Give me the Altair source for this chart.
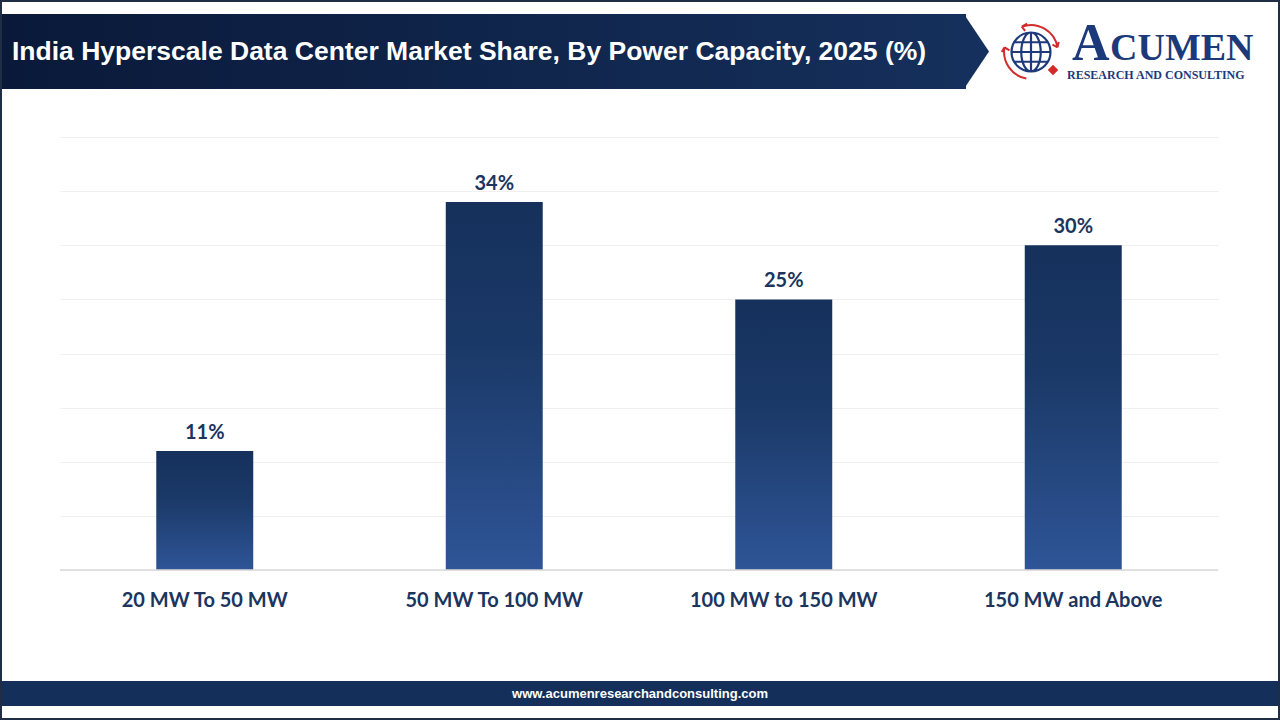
import altair as alt
import pandas as pd

# ---- data ----
categories = ["20 MW To 50 MW", "50 MW To 100 MW", "100 MW to 150 MW", "150 MW and Above"]
shares = [11, 34, 25, 30]
labels = ["11%", "34%", "25%", "30%"]
y_ticks = [0, 5, 10, 15, 20, 25, 30, 35, 40]

title_text = "India Hyperscale Data Center Market Share, By Power Capacity, 2025 (%)"
footer_text = "www.acumenresearchandconsulting.com"
logo_big = "A"
logo_rest = "CUMEN"
logo_sub = "RESEARCH AND CONSULTING"

df = pd.DataFrame({"category": categories, "share": shares, "label": labels})
one = pd.DataFrame({"k": [0]})

W, H = 1158, 433
OX, OY = 60, 137


def px(x):
    return x - OX


def py(y):
    return y - OY


NAVY = "#14305a"
LABEL = "#1b355e"
SANS = "Liberation Sans, Arial, sans-serif"
SERIF = "Liberation Serif, Times New Roman, serif"

x_enc = alt.X(
    "category:N",
    sort=categories,
    scale=alt.Scale(paddingInner=0.665, paddingOuter=0.3325),
    axis=alt.Axis(
        title=None, labelAngle=0, labelFont="Lato", labelFontSize=20,
        labelFontWeight="bold", labelColor=LABEL, labelPadding=20,
        labelLimit=0, ticks=False, domain=False,
    ),
)
y_enc = alt.Y(
    "share:Q",
    scale=alt.Scale(domain=[0, 40]),
    axis=alt.Axis(
        title=None, values=y_ticks, labels=False, ticks=False, domain=False,
        grid=True, gridColor="#efefef", gridWidth=1,
    ),
)

bar_grad = alt.Gradient(
    gradient="linear", x1=0, x2=0, y1=0, y2=1,
    stops=[
        alt.GradientStop(offset=0, color="#15305b"),
        alt.GradientStop(offset=0.4, color="#1b3968"),
        alt.GradientStop(offset=1, color="#2f5597"),
    ],
)

bars = alt.Chart(df).mark_bar(color=bar_grad).encode(x=x_enc, y=y_enc)

texts = alt.Chart(df).mark_text(
    font="Lato", fontSize=20, fontWeight="bold", color=LABEL,
    baseline="alphabetic", dy=-12,
).encode(x=alt.X("category:N", sort=categories), y="share:Q", text="label:N")

baseline = alt.Chart(one).mark_rule(color="#d9d9d9", strokeWidth=1.5).encode(
    x=alt.value(0), x2=alt.value(W), y=alt.value(H)
)

# ---- header banner ----
banner_grad = alt.Gradient(
    gradient="linear", x1=0, x2=1, y1=0, y2=0,
    stops=[
        alt.GradientStop(offset=0, color="#0a1939"),
        alt.GradientStop(offset=1, color="#15305c"),
    ],
)
banner = alt.Chart(one).mark_rect(color=banner_grad).encode(
    x=alt.value(px(0)), x2=alt.value(px(966)),
    y=alt.value(py(14)), y2=alt.value(py(89)),
)
banner_tip = alt.Chart(one).mark_point(
    shape="M -0.03 -1 L 0.64 0 L -0.03 1 Z", filled=True, opacity=1,
    color="#15305c", size=75 * 75, strokeWidth=0,
).encode(x=alt.value(px(965)), y=alt.value(py(51.5)))

title = alt.Chart(one).mark_text(
    align="left", baseline="middle", font=SANS, fontSize=26.5,
    fontWeight="bold", color="white",
).encode(x=alt.value(px(12)), y=alt.value(py(52)), text=alt.value(title_text))

# ---- logo ----
globe_path = (
    "M -1 0 A 1 1 0 1 0 1 0 A 1 1 0 1 0 -1 0 "
    "M 0 -1 A 0.5 1 0 1 0 0 1 A 0.5 1 0 1 0 0 -1 "
    "M 0 -1 L 0 1 M -1 0 L 1 0 M -0.87 -0.5 L 0.87 -0.5 M -0.87 0.5 L 0.87 0.5"
)
globe = alt.Chart(one).mark_point(
    shape=globe_path, filled=False, color="#1f3a7a", strokeWidth=2.2,
    size=39 * 39, opacity=1,
).encode(x=alt.value(px(1031)), y=alt.value(py(52)))

arrows_path = (
    "M -0.472 -1.297 A 1.38 1.38 0 0 1 1.359 -0.240 "
    "M 1.359 -0.240 L 1.1 -0.38 M 1.359 -0.240 L 1.42 -0.52 "
    "M -0.240 1.359 A 1.38 1.38 0 0 1 -1.359 -0.240 "
    "M -1.359 -0.240 L -1.1 -0.08 M -1.359 -0.240 L -1.5 0.0 "
    "M -0.472 -1.297 L -0.2 -1.45 M -0.472 -1.297 L -0.3 -1.08"
)
arrows = alt.Chart(one).mark_point(
    shape=arrows_path, filled=False, color="#d22b2b", strokeWidth=2,
    size=39 * 39, opacity=1,
).encode(x=alt.value(px(1031)), y=alt.value(py(52)))

diamond = alt.Chart(one).mark_point(
    shape="diamond", filled=True, color="#d22b2b", size=110, opacity=1,
).encode(x=alt.value(px(1053)), y=alt.value(py(70)))

logo_a = alt.Chart(one).mark_text(
    align="left", baseline="alphabetic", font=SERIF, fontSize=52,
    fontWeight="bold", color="#1c3a7a",
).encode(x=alt.value(px(1072)), y=alt.value(py(60)), text=alt.value(logo_big))

logo_b = alt.Chart(one).mark_text(
    align="left", baseline="alphabetic", font=SERIF, fontSize=38,
    fontWeight="bold", color="#1c3a7a",
).encode(x=alt.value(px(1110)), y=alt.value(py(60)), text=alt.value(logo_rest))

logo_c = alt.Chart(one).mark_text(
    align="left", baseline="alphabetic", font=SERIF, fontSize=12,
    fontWeight="bold", color="#1c3a7a",
).encode(x=alt.value(px(1067)), y=alt.value(py(79)), text=alt.value(logo_sub))

# ---- footer ----
footer = alt.Chart(one).mark_rect(color=NAVY).encode(
    x=alt.value(px(0)), x2=alt.value(px(1280)),
    y=alt.value(py(681)), y2=alt.value(py(706)),
)
footer_txt = alt.Chart(one).mark_text(
    align="center", baseline="middle", font=SANS, fontSize=13,
    fontWeight="bold", color="white",
).encode(x=alt.value(px(640)), y=alt.value(py(693.5)), text=alt.value(footer_text))

border = alt.Chart(one).mark_rect(
    fillOpacity=0, stroke="#1f2d45", strokeWidth=2,
).encode(
    x=alt.value(px(1)), x2=alt.value(px(1279)),
    y=alt.value(py(1)), y2=alt.value(py(719)),
)

chart = alt.layer(
    bars, baseline, texts, banner, banner_tip, title,
    globe, arrows, diamond, logo_a, logo_b, logo_c,
    footer, footer_txt, border,
).properties(
    width=W, height=H,
    autosize=alt.AutoSizeParams(type="none"),
    padding={"left": OX, "top": OY, "right": 1280 - OX - W, "bottom": 720 - OY - H},
    background="white",
).configure_view(stroke=None)

chart.save("out.html", embed_options={"renderer": "svg", "actions": False})
